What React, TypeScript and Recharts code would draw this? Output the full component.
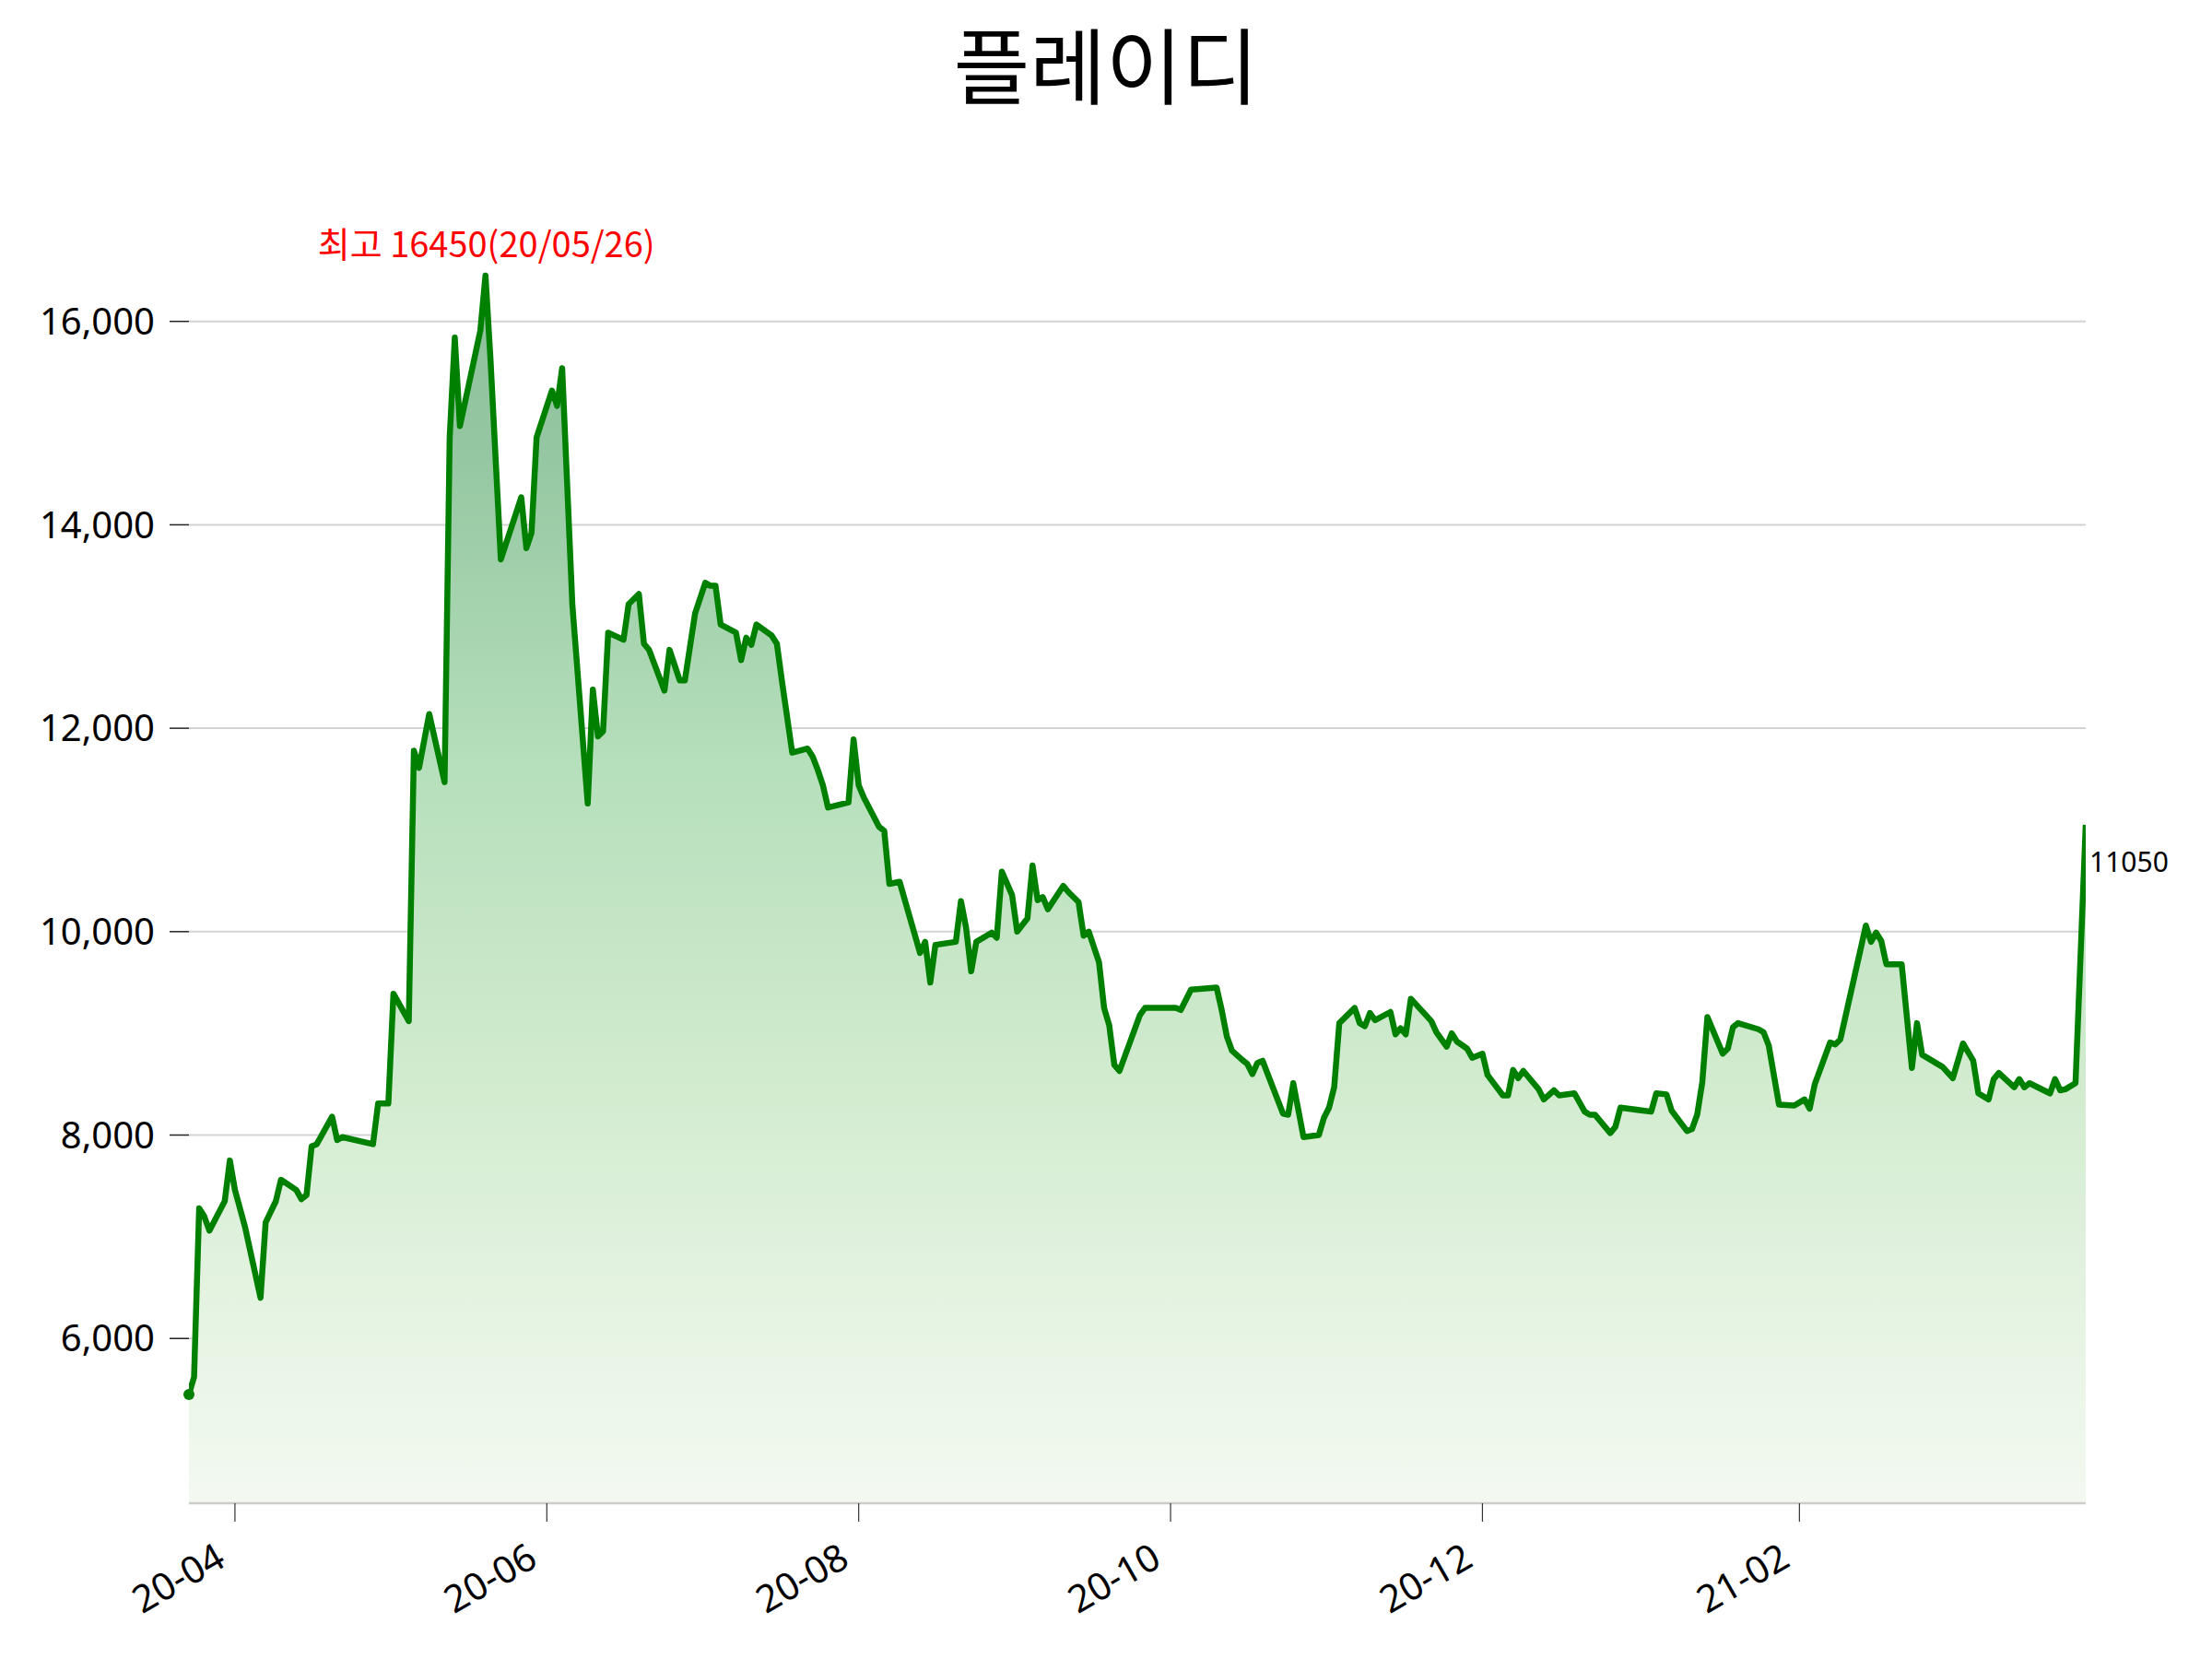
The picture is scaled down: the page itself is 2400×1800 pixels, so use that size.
import { AreaChart, Area, XAxis, YAxis, CartesianGrid, ReferenceDot } from 'recharts'

// day offsets are counted from 2020-04-01
const days = [
  -9, -8, -7, -6, -5, -2, -1, 0, 2, 5, 6, 8, 9, 12, 13, 14, 15, 16, 19, 20,
  21, 27, 28, 30, 31, 34, 35, 36, 38, 41, 42, 43, 44, 48, 49, 50, 52, 56, 57, 58,
  59, 62, 63, 64, 66, 69, 70, 71, 72, 73, 76, 77, 79, 80, 81, 84, 85, 87, 88, 90,
  92, 93, 94, 95, 98, 99, 100, 101, 102, 105, 106, 107, 109, 112, 113, 114, 115, 116, 120, 121,
  122, 123, 126, 127, 128, 130, 134, 135, 136, 137, 141, 142, 143, 144, 145, 148, 149, 150, 152, 153,
  155, 156, 157, 158, 159, 162, 163, 165, 166, 167, 169, 170, 171, 172, 173, 177, 178, 184, 185, 187,
  192, 193, 194, 195, 197, 198, 199, 200, 201, 205, 206, 207, 209, 212, 213, 214, 215, 216, 219, 220,
  221, 222, 223, 226, 227, 228, 229, 230, 234, 235, 237, 238, 239, 241, 242, 244, 245, 248, 249, 250,
  251, 252, 255, 256, 258, 259, 262, 264, 265, 266, 269, 270, 271, 277, 278, 280, 281, 284, 285, 286,
  287, 288, 291, 292, 293, 294, 298, 299, 300, 302, 305, 307, 308, 309, 312, 313, 314, 319, 320, 321,
  322, 323, 326, 328, 329, 330, 334, 336, 338, 340, 341, 343, 344, 345, 348, 349, 350, 351, 355, 356,
  357, 358, 360, 362,
]

const prices = [
  5450, 5620, 7280, 7200, 7060, 7350, 7750, 7460, 7090, 6400, 7140, 7350, 7560, 7460, 7370, 7410, 7890, 7910, 8180, 7950,
  7980, 7910, 8310, 8310, 9390, 9120, 11780, 11610, 12140, 11470, 14860, 15840, 14970, 15910, 16450, 15610, 13660, 14270, 13770, 13920,
  14860, 15320, 15170, 15540, 13210, 11260, 12380, 11920, 11970, 12940, 12870, 13220, 13320, 12830, 12770, 12370, 12770, 12470, 12470, 13130,
  13430, 13400, 13400, 13020, 12940, 12670, 12890, 12820, 13020, 12910, 12830, 12460, 11760, 11800, 11720, 11590, 11440, 11220, 11270, 11890,
  11440, 11320, 11030, 10990, 10470, 10490, 9790, 9900, 9500, 9870, 9900, 10300, 10040, 9610, 9900, 9990, 9940, 10590, 10360, 10000,
  10130, 10650, 10310, 10340, 10220, 10450, 10390, 10290, 9960, 10000, 9700, 9250, 9080, 8690, 8630, 9180, 9250, 9250, 9230, 9430,
  9450, 9230, 8970, 8830, 8740, 8700, 8600, 8710, 8730, 8210, 8200, 8510, 7980, 8000, 8170, 8270, 8470, 9100, 9250, 9100,
  9070, 9200, 9130, 9210, 8990, 9050, 8990, 9340, 9120, 9010, 8870, 9000, 8920, 8850, 8760, 8800, 8590, 8390, 8390, 8640,
  8560, 8630, 8450, 8350, 8440, 8390, 8410, 8230, 8200, 8200, 8020, 8080, 8270, 8230, 8410, 8400, 8240, 8040, 8060, 8200,
  8520, 9160, 8800, 8850, 9060, 9100, 9040, 9010, 8880, 8300, 8290, 8350, 8260, 8500, 8910, 8890, 8940, 10060, 9900, 9990,
  9910, 9680, 9680, 8660, 9100, 8790, 8670, 8560, 8900, 8730, 8410, 8350, 8550, 8610, 8470, 8550, 8470, 8510, 8410, 8550,
  8440, 8450, 8510, 11050,
]

const xTicks = [0, 61, 122, 183, 244, 306]
const xTickLabels = ['20-04', '20-06', '20-08', '20-10', '20-12', '21-02']
const yTicks = [6000, 8000, 10000, 12000, 14000, 16000]

const title = '플레이디'
const highText = '최고 16450(20/05/26)'

const data = days.map((d, i) => ({ day: d, price: prices[i] }))
const hi = prices.indexOf(Math.max(...prices))
const lastIdx = prices.length - 1

const sans = '"Noto Sans", sans-serif'
const kr = '"Noto Sans CJK KR", sans-serif'

function DateTick(props: any) {
  const { x, y, payload } = props
  const label = xTickLabels[xTicks.indexOf(payload.value)]
  return (
    <g transform={`translate(${x - 8},${y + 39}) rotate(-30)`}>
      <text textAnchor="end" fontSize={41} fontFamily={sans} fill="#000">{label}</text>
    </g>
  )
}

function dotCenter(props: any) {
  const vb = props.viewBox || {}
  return { cx: vb.x + (vb.width || 0) / 2, cy: vb.y + (vb.height || 0) / 2 }
}

export default function App() {
  return (
    <div style={{ position: 'relative', width: 2400, height: 1800, background: '#fff' }}>
      <style>{'body{margin:0}'}</style>
      <div
        style={{
          position: 'absolute', top: 22, left: 0, width: 2400, textAlign: 'center',
          fontSize: 90, lineHeight: '90px', fontFamily: kr, color: '#000',
        }}
      >
        {title}
      </div>
      <AreaChart width={2400} height={1800} data={data} margin={{ top: 128, right: 137, bottom: 0, left: 0 }}>
        <defs>
          <linearGradient id="fillGrad" x1="0" y1="0" x2="0" y2="1">
            <stop offset="0%" stopColor="#8cbf9a" />
            <stop offset="15%" stopColor="#95c8a2" />
            <stop offset="40%" stopColor="#b6dfbb" />
            <stop offset="67%" stopColor="#d3ecd0" />
            <stop offset="85%" stopColor="#e6f4e3" />
            <stop offset="100%" stopColor="#f3f9f1" />
          </linearGradient>
        </defs>
        <CartesianGrid vertical={false} horizontalValues={yTicks} stroke="#d3d3d3" strokeWidth={2} />
        <XAxis
          dataKey="day"
          type="number"
          domain={[-9, 362]}
          ticks={xTicks}
          interval={0}
          allowDataOverflow
          height={169}
          axisLine={{ stroke: '#cccccc', strokeWidth: 2.5 }}
          tickLine={{ stroke: '#333', strokeWidth: 1.2 }}
          tickSize={20}
          tickMargin={8}
          tick={<DateTick />}
        />
        <YAxis
          type="number"
          domain={[4380, 18000]}
          ticks={yTicks}
          interval={0}
          allowDataOverflow
          width={205}
          axisLine={false}
          tickLine={{ stroke: '#222', strokeWidth: 1.5 }}
          tickSize={21}
          tickMargin={16}
          tick={{ fontSize: 40, fill: '#000', fontFamily: sans }}
          tickFormatter={(v: number) => v.toLocaleString('en-US')}
        />
        <Area
          type="linear"
          dataKey="price"
          stroke="#008000"
          strokeWidth={6.5}
          strokeLinejoin="round"
          fill="url(#fillGrad)"
          fillOpacity={1}
          dot={false}
          activeDot={false}
          isAnimationActive={false}
        />
        <ReferenceDot x={days[0]} y={prices[0]} r={6} fill="#008000" stroke="none" />
        <ReferenceDot
          x={days[hi]}
          y={prices[hi]}
          r={0}
          stroke="none"
          label={{
            content: (p: any) => {
              const { cx, cy } = dotCenter(p)
              return (
                <text x={cx - 182} y={cy - 20} fontSize={38} fontFamily={kr} fill="#ff0000">{highText}</text>
              )
            },
          }}
        />
        <ReferenceDot
          x={days[lastIdx]}
          y={prices[lastIdx]}
          r={0}
          stroke="none"
          label={{
            content: (p: any) => {
              const { cx, cy } = dotCenter(p)
              return (
                <text x={cx + 4} y={cy + 51} fontSize={30} fontFamily={sans} fill="#000">{prices[lastIdx]}</text>
              )
            },
          }}
        />
      </AreaChart>
    </div>
  )
}
